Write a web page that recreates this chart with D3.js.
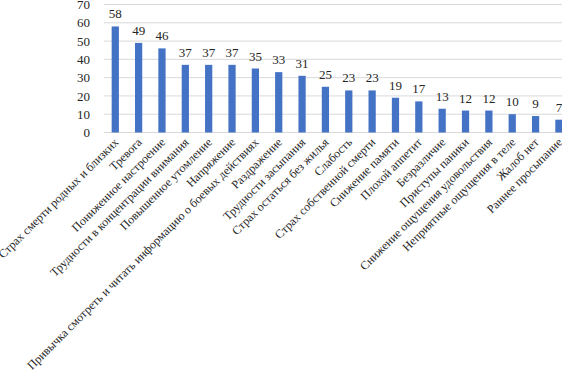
<!DOCTYPE html>
<html><head><meta charset="utf-8">
<script src="https://cdn.jsdelivr.net/npm/d3@7"></script>
<style>body{margin:0;background:#fff}svg{display:block}</style>
</head><body><svg id="c" width="562" height="374"></svg>
<script>
const categories = ["Страх смерти родных и близких","Тревога","Пониженное настроение","Трудности в концентрации внимания","Повышенное утомление","Напряжение","Привычка смотреть и читать информацию о боевых действиях","Раздражение","Трудности засыпания","Страх остаться без жилья","Слабость","Страх собственной смерти","Снижение памяти","Плохой аппетит","Безразличие","Приступы паники","Снижение ощущения удовольствия","Неприятные ощущения в теле","Жалоб нет","Раннее просыпание"];
const values = [58,49,46,37,37,37,35,33,31,25,23,23,19,17,13,12,12,10,9,7];
const yTicks = [0,10,20,30,40,50,60,70];

const svg = d3.select("#c");
const font = "'Liberation Serif', 'DejaVu Serif', serif";
const x = d3.scaleBand().domain(categories).range([103.6, 570.6]).paddingInner(0.69).paddingOuter(0.345);
const y = d3.scaleLinear().domain([0,70]).range([132.5, 4.5]);

// gridlines
svg.append("g").selectAll("line").data(yTicks).join("line")
  .attr("x1", 104).attr("x2", 562)
  .attr("y1", d => y(d)).attr("y2", d => y(d))
  .attr("stroke", "#d9d9d9").attr("stroke-width", 1);

// y axis labels
const yAxis = d3.axisLeft(y).tickValues(yTicks).tickSize(0).tickPadding(0);
const ga = svg.append("g").attr("transform", "translate(90,0)").call(yAxis);
ga.select(".domain").remove();
ga.selectAll("text").attr("font-family", font).attr("font-size", 13).attr("fill", "#262626");

// bars
svg.append("g").selectAll("rect").data(values).join("rect")
  .attr("x", (d,i) => x(categories[i])).attr("width", x.bandwidth())
  .attr("y", d => y(d)).attr("height", d => y(0) - y(d))
  .attr("fill", "#4472C4");

// value labels
svg.append("g").selectAll("text").data(values).join("text")
  .attr("x", (d,i) => x(categories[i]) + x.bandwidth()/2)
  .attr("y", d => y(d) - 8)
  .attr("text-anchor", "middle")
  .attr("font-family", font).attr("font-size", 13).attr("fill", "#262626")
  .text(d => d);

// category labels
svg.append("g").selectAll("text").data(categories).join("text")
  .attr("transform", d => `translate(${x(d) + x.bandwidth()/2 + 4},${143}) rotate(-45)`)
  .attr("text-anchor", "end")
  .attr("font-family", font).attr("font-size", 12).attr("fill", "#262626")
  .text(d => d);
</script></body></html>
